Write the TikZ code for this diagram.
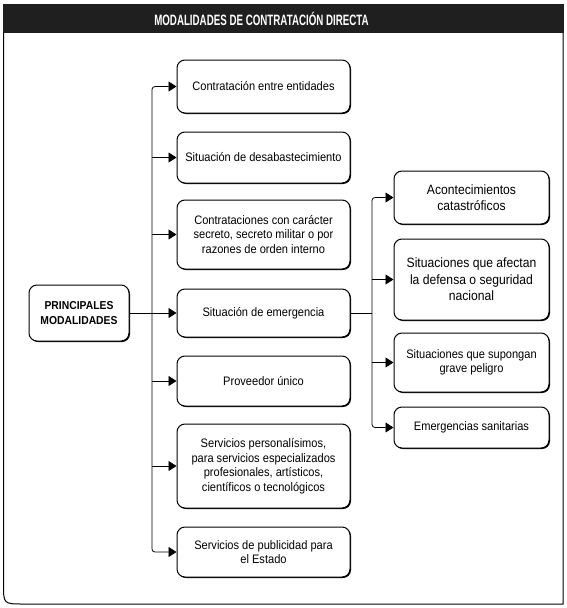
\documentclass[tikz,border=0pt]{standalone}
\usepackage{fontspec}
\setmainfont{Liberation Sans}[FakeStretch=0.9]
\newfontfamily\headfont{Liberation Sans}[FakeStretch=0.65]
\usepackage{tikz}
\usetikzlibrary{arrows.meta,shadows}

\begin{document}
\begin{tikzpicture}[x=1pt,y=-1pt,
	caja/.style={draw,line width=1pt,rounded corners=8pt,fill=white,align=center,inner sep=2pt,
		drop shadow={shadow xshift=1pt,shadow yshift=-1pt,opacity=1,fill=black}},
	izq/.style={caja,minimum width=173pt,font=\fontsize{12.3}{14.5}\selectfont},
	der/.style={caja,minimum width=155pt,font=\fontsize{12.3}{14.5}\selectfont},
	grande/.style={font=\fontsize{13.5}{16.5}\selectfont},
	flecha/.style={-{Triangle[length=8pt,width=10pt]},line width=0.8pt}]
		\useasboundingbox (0,0) rectangle (567,608);
		% marco y titulo
		\fill[black!88] (3,4) rectangle (564,33);
		\node[text=white,font=\headfont\bfseries\fontsize{15}{17}\selectfont] (T) at (261.5,19) {MODALIDADES DE CONTRATACIÓN DIRECTA};
		\draw[line width=1pt] (3.5,33) -- (3.5,584) .. controls (3.5,604) .. (23.5,604) -- (563,604) -- (563,33);
		% nodos
		\node[caja,minimum width=100pt,minimum height=56pt,font=\bfseries\fontsize{11.5}{14.5}\selectfont] (P) at (79,313) {PRINCIPALES\\MODALIDADES};
		\node[izq,minimum height=53pt] (M1) at (263.5,86.5) {Contratación entre entidades};
		\node[izq,minimum height=51pt] (M2) at (263.5,157.5) {Situación de desabastecimiento};
		\node[izq,minimum height=69pt] (M3) at (263.5,234.5) {Contrataciones con carácter\\secreto, secreto militar o por\\razones de orden interno};
		\node[izq,minimum height=48pt] (M4) at (263.5,313) {Situación de emergencia};
		\node[izq,minimum height=50pt] (M5) at (263.5,381) {Proveedor único};
		\node[izq,minimum height=84pt] (M6) at (263.5,466) {Servicios personalísimos,\\para servicios especializados\\profesionales, artísticos,\\científicos o tecnológicos};
		\node[izq,minimum height=50pt] (M7) at (263.5,552) {Servicios de publicidad para\\el Estado};
		\node[der,grande,minimum height=53pt] (E1) at (471.5,197.5) {Acontecimientos\\catastróficos};
		\node[der,grande,minimum height=81pt] (E2) at (471.5,279.5) {Situaciones que afectan\\la defensa o seguridad\\nacional};
		\node[der,minimum height=59pt] (E3) at (471.5,362.5) {Situaciones que supongan\\grave peligro};
		\node[der,minimum height=41pt] (E4) at (471.5,427.5) {Emergencias sanitarias};
		% conectores
		\coordinate (T1) at (152,313);
		\coordinate (T2) at (372,313);
		\draw[flecha](P) -- (M4);
		\draw[flecha,rounded corners=3pt](T1) |- (M1.west);
		\draw[flecha,rounded corners=3pt](T1) |- (M7.west);
		\foreach \n in {M2,M3,M5,M6}
			\draw[flecha](T1 |- \n.west) -- (\n.west);
		\draw[line width=0.8pt](M4.east) -- (T2);
		\draw[flecha,rounded corners=3pt](T2) |- (E1.west);
		\draw[flecha,rounded corners=3pt](T2) |- (E4.west);
		\foreach \n in {E2,E3}
			\draw[flecha](T2 |- \n.west) -- (\n.west);
	\end{tikzpicture}
\end{document}
